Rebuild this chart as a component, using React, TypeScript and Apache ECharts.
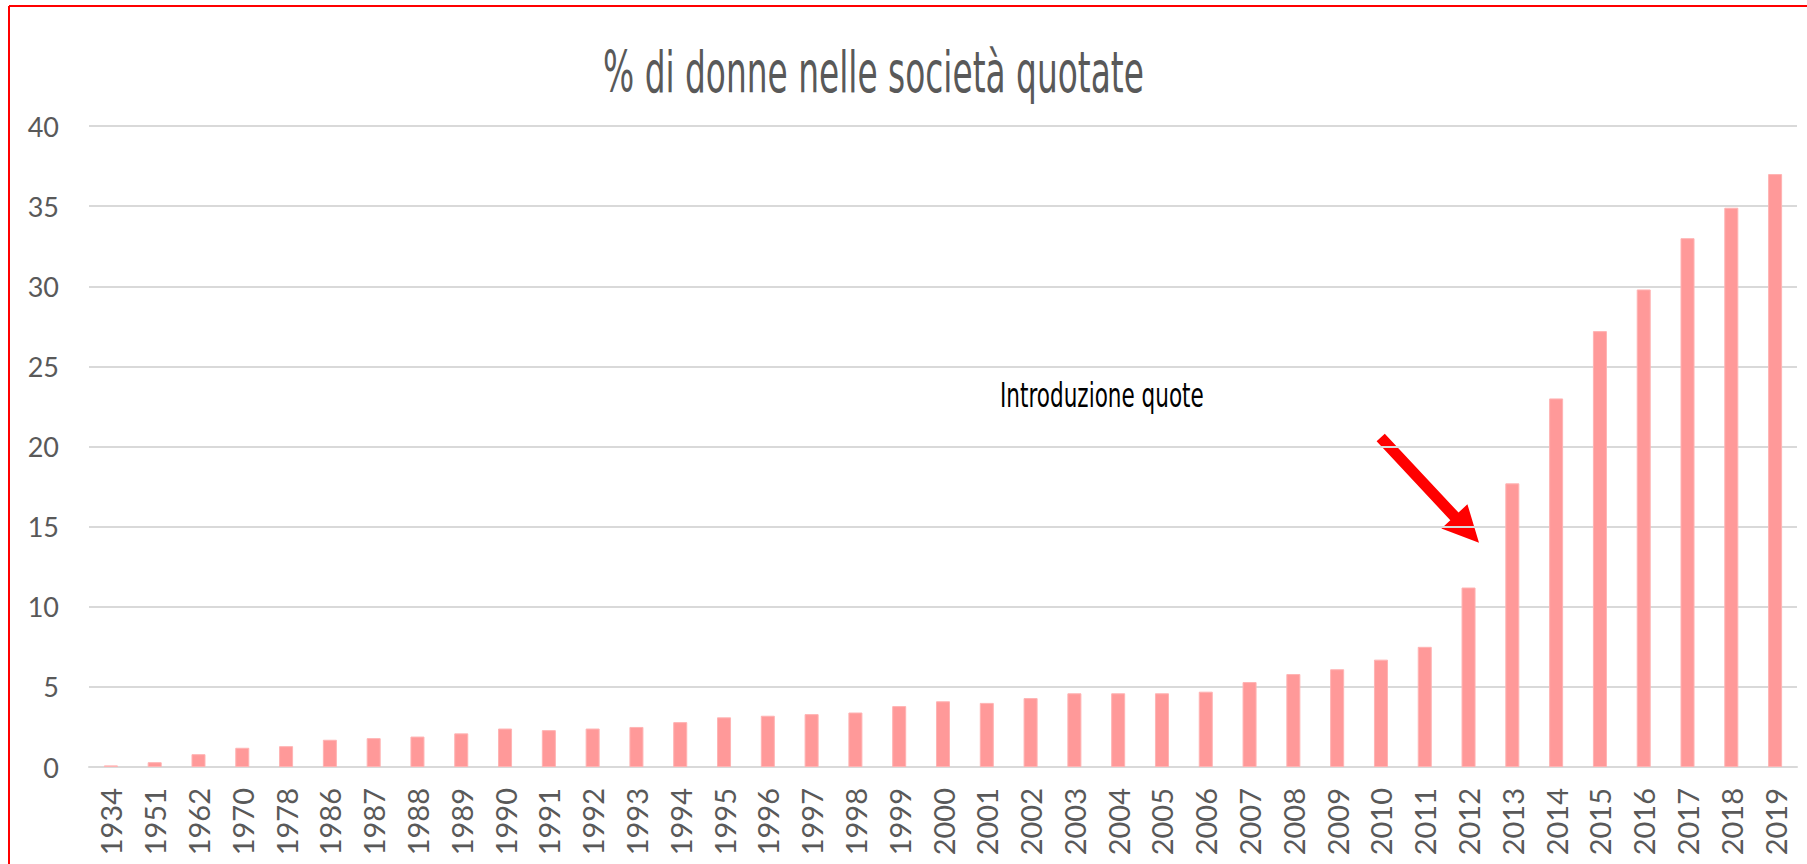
import React, { useEffect, useRef } from "react";
import * as echarts from "echarts";

const years: string[] = [
  "1934", "1951", "1962", "1970", "1978", "1986", "1987", "1988", "1989", "1990",
  "1991", "1992", "1993", "1994", "1995", "1996", "1997", "1998", "1999", "2000",
  "2001", "2002", "2003", "2004", "2005", "2006", "2007", "2008", "2009", "2010",
  "2011", "2012", "2013", "2014", "2015", "2016", "2017", "2018", "2019",
];

const womenPct: number[] = [
  0.1, 0.3, 0.8, 1.2, 1.3, 1.7, 1.8, 1.9, 2.1, 2.4,
  2.3, 2.4, 2.5, 2.8, 3.1, 3.2, 3.3, 3.4, 3.8, 4.1,
  4.0, 4.3, 4.6, 4.6, 4.6, 4.7, 5.3, 5.8, 6.1, 6.7,
  7.5, 11.2, 17.7, 23.0, 27.2, 29.8, 33.0, 34.9, 37.0,
];

const yTicks = { min: 0, max: 40, interval: 5 };

const titleText = "% di donne nelle società quotate";
const noteText = "Introduzione quote";

export default function App() {
  const ref = useRef<HTMLDivElement>(null);

  useEffect(() => {
    if (!ref.current) return;
    const chart = echarts.init(ref.current, undefined, { renderer: "svg" });
    const tc = [1380.7, 437.5];
    const tip = [1479, 542.7];
    const dx = tip[0] - tc[0];
    const dy = tip[1] - tc[1];
    const len = Math.sqrt(dx * dx + dy * dy);
    const ux = dx / len, uy = dy / len;
    const px = uy, py = -ux;
    const headLen = 36;
    const bc = [tip[0] - ux * headLen, tip[1] - uy * headLen];
    const sw = 5.6, hw = 17.8;
    const arrowPts = [
      [tc[0] + px * sw, tc[1] + py * sw],
      [bc[0] + px * sw, bc[1] + py * sw],
      [bc[0] + px * hw, bc[1] + py * hw],
      tip,
      [bc[0] - px * hw, bc[1] - py * hw],
      [bc[0] - px * sw, bc[1] - py * sw],
      [tc[0] - px * sw, tc[1] - py * sw],
    ];

    chart.setOption({
      animation: false,
      backgroundColor: "#ffffff",
      grid: { left: 89, right: 10, top: 126, bottom: 97, containLabel: false },
      xAxis: {
        type: "category",
        data: years,
        axisTick: { show: false },
        axisLine: { lineStyle: { color: "#D9D9D9", width: 2 } },
        axisLabel: {
          interval: 0,
          rotate: 90,
          margin: 21,
          color: "#595959",
          fontFamily: "Lato",
          fontSize: 29,
        },
      },
      yAxis: {
        type: "value",
        min: yTicks.min,
        max: yTicks.max,
        interval: yTicks.interval,
        axisLine: { show: false },
        axisTick: { show: false },
        splitLine: { lineStyle: { color: "#D9D9D9", width: 2 } },
        axisLabel: {
          margin: 30,
          color: "#595959",
          fontFamily: "Lato",
          fontSize: 27,
        },
      },
      series: [
        {
          type: "bar",
          data: womenPct,
          barWidth: "32%",
          itemStyle: { color: "#FF9999", borderColor: "#FFB3B3", borderWidth: 1 },
        },
      ],
      graphic: [
        {
          type: "line",
          shape: { x1: 9, y1: 6, x2: 1807, y2: 6 },
          style: { stroke: "#FF0000", lineWidth: 2 },
          z: 100,
        },
        {
          type: "line",
          shape: { x1: 9, y1: 6, x2: 9, y2: 864 },
          style: { stroke: "#FF0000", lineWidth: 2 },
          z: 100,
        },
        {
          type: "text",
          x: 603,
          y: 44,
          scaleX: 0.966,
          scaleY: 1.69,
          style: {
            text: titleText,
            fontFamily: "DejaVu Sans",
            fontSize: 34,
            fill: "#595959",
            align: "left",
            verticalAlign: "top",
          },
        },
        {
          type: "text",
          x: 1000,
          y: 378,
          scaleX: 0.98,
          scaleY: 1.56,
          style: {
            text: noteText,
            fontFamily: "DejaVu Sans",
            fontSize: 22,
            fill: "#000000",
            align: "left",
            verticalAlign: "top",
          },
        },
        {
          type: "polygon",
          shape: { points: arrowPts },
          style: { fill: "#FF0000" },
        },
      ],
    });
    return () => chart.dispose();
  }, []);

  return (
    <div
      ref={ref}
      style={{ position: "absolute", left: 0, top: 0, width: 1807, height: 864 }}
    />
  );
}
